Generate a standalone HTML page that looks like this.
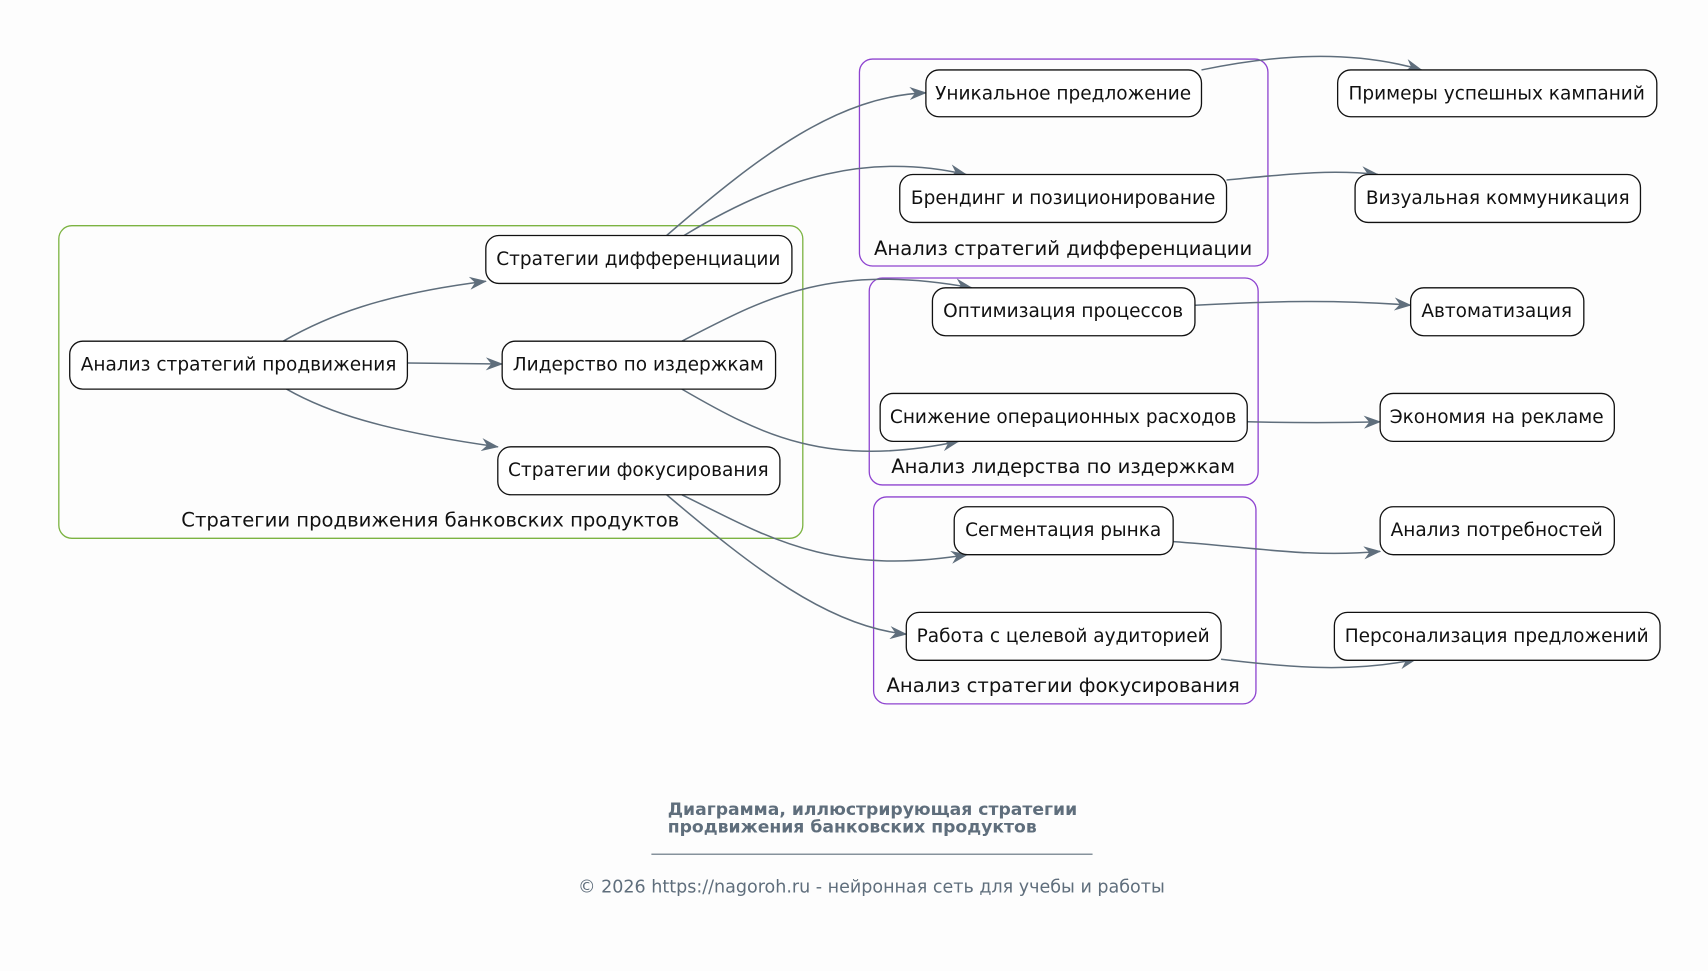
<!DOCTYPE html>
<html><head><meta charset="utf-8"><style>
html,body{margin:0;padding:0;background:#fdfdfd;}
svg{display:block;}
text{font-family:"DejaVu Sans","Liberation Sans",sans-serif;}
</style></head><body>
<svg width="1708" height="971" viewBox="0 0 1568 891" xmlns="http://www.w3.org/2000/svg">
<defs>
<marker id="a" viewBox="0 0 16 12" refX="15" refY="6" markerWidth="16" markerHeight="12" markerUnits="userSpaceOnUse" orient="auto">
<path d="M0,0 L16,6 L0,12 L5,6 z" fill="#5f6e7c"/>
</marker>
</defs>
<rect width="1568" height="891" fill="#fdfdfd"/>
<g fill="none" stroke-width="1.2">
<rect x="54" y="207" width="683" height="287" rx="12" stroke="#7cb342"/>
<rect x="789" y="54" width="375" height="190" rx="12" stroke="#8e44d0"/>
<rect x="798" y="255" width="357" height="190" rx="12" stroke="#8e44d0"/>
<rect x="802" y="456" width="351" height="190" rx="12" stroke="#8e44d0"/>
</g>
<g font-size="18" fill="#111" text-anchor="middle">
<text x="395" y="483">Стратегии продвижения банковских продуктов</text>
<text x="976" y="234">Анализ стратегий дифференциации</text>
<text x="976" y="434">Анализ лидерства по издержкам</text>
<text x="976" y="635">Анализ стратегии фокусирования</text>
</g>
<g fill="none" stroke="#5f6e7c" stroke-width="1.4" marker-end="url(#a)">
<path d="M260,313 C300,290 350,270 446,258"/>
<path d="M374,333 L461,334"/>
<path d="M263,357 C300,378 350,395 457,410"/>
<path d="M612,216 C700,140 770,88 850,85"/>
<path d="M628,216 C720,160 800,140 887,160"/>
<path d="M626,313 C700,275 760,240 892,264"/>
<path d="M626,357 C700,400 760,430 880,405"/>
<path d="M626,454 C700,490 760,530 888,509"/>
<path d="M612,454 C690,520 760,575 832,582"/>
<path d="M1103,64 C1170,50 1240,45 1305,64"/>
<path d="M1126,165 C1180,160 1220,155 1265,160"/>
<path d="M1097,280 C1170,276 1230,275 1295,280"/>
<path d="M1145,387 C1190,388 1230,388 1267,387"/>
<path d="M1077,497 C1150,502 1200,512 1267,506"/>
<path d="M1121,605 C1180,612 1240,618 1300,605"/>
</g>
<g fill="#fff" stroke="#111" stroke-width="1.2">
<rect x="64" y="313" width="310" height="44" rx="12"/>
<rect x="446" y="216" width="281" height="44" rx="12"/>
<rect x="461" y="313" width="251" height="44" rx="12"/>
<rect x="457" y="410" width="259" height="44" rx="12"/>
<rect x="850" y="64" width="253" height="43" rx="12"/>
<rect x="826" y="160" width="300" height="44" rx="12"/>
<rect x="856" y="264" width="241" height="44" rx="12"/>
<rect x="808" y="361" width="337" height="44" rx="12"/>
<rect x="876" y="465" width="201" height="44" rx="12"/>
<rect x="832" y="562" width="289" height="44" rx="12"/>
<rect x="1228" y="64" width="293" height="43" rx="12"/>
<rect x="1244" y="160" width="262" height="44" rx="12"/>
<rect x="1295" y="264" width="159" height="44" rx="12"/>
<rect x="1267" y="361" width="215" height="44" rx="12"/>
<rect x="1267" y="465" width="215" height="44" rx="12"/>
<rect x="1225" y="562" width="299" height="44" rx="12"/>
</g>
<g font-size="17" fill="#111" text-anchor="middle">
<text x="219" y="340">Анализ стратегий продвижения</text>
<text x="586" y="243">Стратегии дифференциации</text>
<text x="586" y="340">Лидерство по издержкам</text>
<text x="586" y="437">Стратегии фокусирования</text>
<text x="976" y="91">Уникальное предложение</text>
<text x="976" y="187">Брендинг и позиционирование</text>
<text x="976" y="291">Оптимизация процессов</text>
<text x="976" y="388">Снижение операционных расходов</text>
<text x="976" y="492">Сегментация рынка</text>
<text x="976" y="589">Работа с целевой аудиторией</text>
<text x="1374" y="91">Примеры успешных кампаний</text>
<text x="1375" y="187">Визуальная коммуникация</text>
<text x="1374" y="291">Автоматизация</text>
<text x="1374" y="388">Экономия на рекламе</text>
<text x="1374" y="492">Анализ потребностей</text>
<text x="1374" y="589">Персонализация предложений</text>
</g>
<g fill="#5f6e7c">
<text x="613" y="748" font-size="15.8" font-weight="bold">Диаграмма, иллюстрирующая стратегии</text>
<text x="613" y="764" font-size="15.8" font-weight="bold">продвижения банковских продуктов</text>
<line x1="598" y1="784" x2="1003" y2="784" stroke="#5f6e7c" stroke-width="1"/>
<text x="800" y="819" font-size="16.1" text-anchor="middle">© 2026 https://nagoroh.ru - нейронная сеть для учебы и работы</text>
</g>
</svg>
</body></html>
